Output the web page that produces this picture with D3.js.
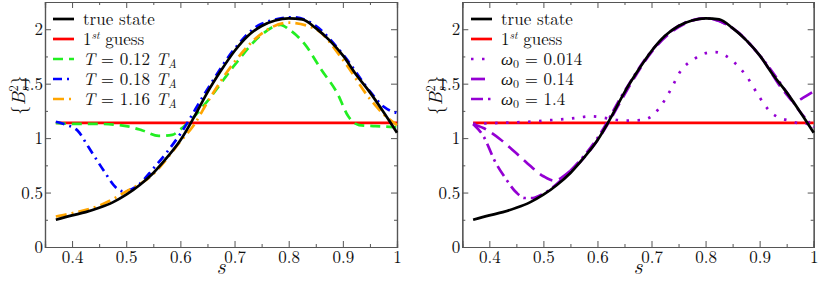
<!DOCTYPE html>
<html>
<head>
<meta charset="utf-8">
<script src="https://cdn.jsdelivr.net/npm/d3@7"></script>
<style>
  body { margin: 0; background: #fff; }
</style>
</head>
<body>
<svg id="chart" width="822" height="281"></svg>
<script>
// two panels: reconstructed <B_s^2> profile vs s

// true state and first guess (shared by both panels)
const sTrue = [0.37, 0.40, 0.425, 0.45, 0.475, 0.50, 0.525, 0.55, 0.575, 0.60, 0.625, 0.65, 0.675,
               0.70, 0.725, 0.75, 0.775, 0.80, 0.825, 0.85, 0.875, 0.90, 0.925, 0.95, 0.975, 1.0];
const bTrue = [0.25, 0.29, 0.32, 0.36, 0.41, 0.48, 0.57, 0.68, 0.82, 0.98, 1.19, 1.42, 1.62,
               1.80, 1.94, 2.03, 2.08, 2.10, 2.09, 2.01, 1.90, 1.76, 1.58, 1.42, 1.24, 1.05];
const sGuess = [0.37, 1.0];
const bGuess = [1.14, 1.14];

// left panel: different assimilation windows T
const sT012 = [0.37, 0.40, 0.45, 0.50, 0.53, 0.56, 0.585, 0.60, 0.62, 0.65, 0.70, 0.75, 0.785,
               0.80, 0.83, 0.86, 0.89, 0.91, 0.93, 0.96, 1.0];
const bT012 = [1.14, 1.13, 1.13, 1.11, 1.07, 1.02, 1.03, 1.08, 1.17, 1.34, 1.67, 1.95, 2.04,
               2.00, 1.86, 1.63, 1.41, 1.20, 1.12, 1.11, 1.10];
const sT018 = [0.37, 0.39, 0.41, 0.43, 0.46, 0.48, 0.495, 0.52, 0.55, 0.60, 0.65, 0.70, 0.75,
               0.81, 0.85, 0.90, 0.95, 0.975, 1.0];
const bT018 = [1.15, 1.12, 1.07, 0.92, 0.69, 0.55, 0.51, 0.56, 0.72, 1.04, 1.45, 1.82, 2.05,
               2.11, 2.03, 1.77, 1.43, 1.29, 1.23];
const sT116 = [0.37, 0.40, 0.45, 0.50, 0.55, 0.575, 0.60, 0.625, 0.65, 0.70, 0.75, 0.80, 0.85,
               0.90, 0.95, 0.975, 1.0];
const bT116 = [0.28, 0.31, 0.38, 0.51, 0.67, 0.81, 0.97, 1.12, 1.33, 1.70, 1.96, 2.06, 2.00,
               1.72, 1.36, 1.22, 1.12];

// right panel: different omega_0
const sW0014 = [0.37, 0.42, 0.47, 0.50, 0.55, 0.59, 0.62, 0.65, 0.68, 0.70, 0.715, 0.735, 0.753,
                0.78, 0.80, 0.818, 0.836, 0.852, 0.877, 0.898, 0.92, 0.935, 0.956, 0.975, 1.0];
const bW0014 = [1.13, 1.14, 1.15, 1.16, 1.18, 1.20, 1.18, 1.16, 1.165, 1.20, 1.28, 1.44, 1.61,
                1.73, 1.78, 1.79, 1.76, 1.70, 1.56, 1.39, 1.24, 1.19, 1.16, 1.135, 1.13];
const sW014 = [0.37, 0.39, 0.42, 0.45, 0.47, 0.50, 0.52, 0.55, 0.60, 0.625, 0.65, 0.70, 0.75,
               0.80, 0.85, 0.90, 0.95, 0.965, 0.98, 1.0];
const bW014 = [1.13, 1.09, 0.99, 0.86, 0.77, 0.65, 0.61, 0.70, 0.98, 1.18, 1.40, 1.79, 2.02,
               2.10, 2.01, 1.76, 1.40, 1.33, 1.37, 1.43];
const sW14 = [0.37, 0.39, 0.41, 0.43, 0.45, 0.465, 0.48, 0.50, 0.55, 0.60, 0.65, 0.70, 0.75,
              0.80, 0.85, 0.90, 0.95, 0.975, 1.0];
const bW14 = [1.13, 1.01, 0.79, 0.63, 0.50, 0.45, 0.45, 0.49, 0.70, 1.00, 1.43, 1.80, 2.03,
              2.10, 2.01, 1.76, 1.42, 1.24, 1.10];

// ticks
const xMajor = [0.4, 0.5, 0.6, 0.7, 0.8, 0.9, 1.0];
const xMinor = [0.45, 0.55, 0.65, 0.75, 0.85, 0.95];
const yMajor = [0, 0.5, 1, 1.5, 2];
const yMinor = [0.25, 0.75, 1.25, 1.75];

const FONT = '"Latin Modern Roman"';
const svg = d3.select("#chart");

function pairs(xs, ys){ return xs.map((v, i) => [v, ys[i]]); }

function txt(sel){ return sel.append("text").attr("font-family", FONT).attr("fill", "#111"); }

function drawPanel(left, right, series, legendX){
        const x = d3.scaleLinear().domain([0.35, 1]).range([left, right]);
        const y = d3.scaleLinear().domain([0, 2.25]).range([247, 2]);
        const g = svg.append("g");

        // ticks on all four sides, pointing inwards
        const axes = [
                [d3.axisBottom(x).tickValues(xMajor).tickSize(-6).tickPadding(4)
                        .tickFormat(d3.format("")), `translate(0,${y(0)})`],
                [d3.axisBottom(x).tickValues(xMinor).tickSize(-3).tickFormat(""), `translate(0,${y(0)})`],
                [d3.axisTop(x).tickValues(xMajor).tickSize(-6).tickFormat(""), `translate(0,${y(2.25)})`],
                [d3.axisTop(x).tickValues(xMinor).tickSize(-3).tickFormat(""), `translate(0,${y(2.25)})`],
                [d3.axisLeft(y).tickValues(yMajor).tickSize(-6).tickPadding(2)
                        .tickFormat(d3.format("")), `translate(${left},0)`],
                [d3.axisLeft(y).tickValues(yMinor).tickSize(-3).tickFormat(""), `translate(${left},0)`],
                [d3.axisRight(y).tickValues(yMajor).tickSize(-6).tickFormat(""), `translate(${right},0)`],
                [d3.axisRight(y).tickValues(yMinor).tickSize(-3).tickFormat(""), `translate(${right},0)`]
        ];
        axes.forEach(([ax, tr]) => {
                const a = g.append("g").attr("transform", tr).call(ax);
                a.select(".domain").attr("stroke", "#555").attr("stroke-width", 1.2);
                a.selectAll(".tick line").attr("stroke", "#555");
                a.selectAll("text").attr("font-family", FONT).attr("font-size", "17px")
                        .attr("fill", "#111");
        });

        // axis titles
        txt(g).attr("x", (left + right) / 2).attr("y", 274)
                .attr("text-anchor", "middle")
                .attr("font-style", "italic").attr("font-size", "22px")
                .text("s");

        const yl = txt(g)
                .attr("transform", `translate(${left - 20},95) rotate(-90)`)
                .attr("text-anchor", "middle")
                .attr("font-size", "19px");
        yl.append("tspan").text("{");
        yl.append("tspan").attr("font-style", "italic").text("B");
        yl.append("tspan").attr("font-size", "13px").attr("font-style", "italic").attr("dy", 4).text("s");
        yl.append("tspan").attr("font-size", "13px").attr("dy", -11).attr("dx", -5).text("2");
        yl.append("tspan").attr("dy", 7).attr("dx", 0.5).text("}");

        // curves
        const line = d3.line().x(d => x(d[0])).y(d => y(d[1])).curve(d3.curveMonotoneX);
        series.forEach(s => {
                g.append("path")
                        .datum(pairs(s.xs, s.ys))
                        .attr("d", line)
                        .attr("fill", "none")
                        .attr("stroke", s.colour)
                        .attr("stroke-width", 2.7)
                        .attr("stroke-dasharray", s.dash || null);
        });

        // legend, in the order of the reference
        const order = series.slice().sort((a, b) => a.rank - b.rank);
        order.forEach((s, i) => {
                const ly = 19 + i * 20;
                g.append("line")
                        .attr("x1", legendX).attr("x2", legendX + 21)
                        .attr("y1", ly).attr("y2", ly)
                        .attr("stroke", s.colour).attr("stroke-width", 2.7)
                        .attr("stroke-dasharray", s.dash || null);
                const t = txt(g).attr("x", legendX + 30).attr("y", ly + 6)
                        .attr("font-size", "17px");
                s.label(t);
        });
}

function labelPlain(str){ return t => t.text(str); }
function labelGuess(t){
        t.append("tspan").text("1");
        t.append("tspan").attr("font-size", "11px").attr("font-style", "italic").attr("dy", -6).text("st");
        t.append("tspan").attr("dy", 6).text(" guess");
}
function labelT(val){
        return t => {
                t.append("tspan").attr("font-style", "italic").text("T");
                t.append("tspan").text(" = " + val + " ");
                t.append("tspan").attr("font-style", "italic").text("T");
                t.append("tspan").attr("font-size", "12px").attr("font-style", "italic").attr("dy", 3).text("A");
        };
}
function labelW(val){
        return t => {
                t.append("tspan").attr("font-style", "italic").text("ω");
                t.append("tspan").attr("font-size", "12px").attr("dy", 3).text("0");
                t.append("tspan").attr("dy", -3).text(" = " + val);
        };
}

const trueSeries = {xs: sTrue, ys: bTrue, colour: "#000", rank: 0, label: labelPlain("true state")};
const guessSeries = {xs: sGuess, ys: bGuess, colour: "#ff0000", rank: 1, label: labelGuess};

drawPanel(45, 397, [
        guessSeries,
        {xs: sT012, ys: bT012, colour: "#22ee22", dash: "10,6", rank: 2, label: labelT("0.12")},
        {xs: sT018, ys: bT018, colour: "#0000ff", dash: "9,5,2,5", rank: 3, label: labelT("0.18")},
        {xs: sT116, ys: bT116, colour: "#ffa500", dash: "11,5,2,5", rank: 4, label: labelT("1.16")},
        trueSeries
], 53);

drawPanel(462.3, 813.7, [
        guessSeries,
        {xs: sW0014, ys: bW0014, colour: "#9400d3", dash: "2.5,8.5", rank: 2, label: labelW("0.014")},
        {xs: sW014, ys: bW014, colour: "#9400d3", dash: "14,7", rank: 3, label: labelW("0.14")},
        {xs: sW14, ys: bW14, colour: "#9400d3", dash: "12,5,2.5,5", rank: 4, label: labelW("1.4")},
        trueSeries
], 471);
</script>
</body>
</html>
